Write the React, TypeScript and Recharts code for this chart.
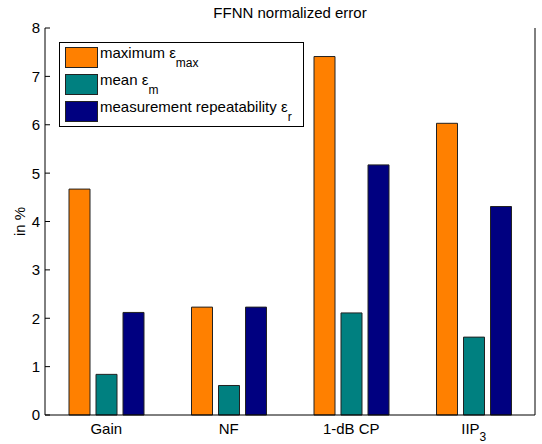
import React from 'react';
import { BarChart, Bar, XAxis, YAxis, Legend } from 'recharts';

const CATEGORIES = ['Gain', 'NF', '1-dB CP', 'IIP_3'];
const MAX_ERR = [4.67, 2.23, 7.41, 6.03];
const MEAN_ERR = [0.84, 0.61, 2.11, 1.61];
const REPEAT_ERR = [2.12, 2.23, 5.17, 4.31];
const Y_TICKS = [0, 1, 2, 3, 4, 5, 6, 7, 8];
const TITLE = 'FFNN normalized error';
const Y_LABEL = 'in %';

const SERIES = [
  { key: 'max', name: 'maximum ε', sub: 'max', color: '#FF8000' },
  { key: 'mean', name: 'mean ε', sub: 'm', color: '#008080' },
  { key: 'rep', name: 'measurement repeatability ε', sub: 'r', color: '#000080' },
];

const data = CATEGORIES.map((c, i) => ({
  name: c,
  max: MAX_ERR[i],
  mean: MEAN_ERR[i],
  rep: REPEAT_ERR[i],
}));

const FONT = '"Liberation Sans", Arial, Helvetica, sans-serif';
const FS = 15;
const TICK_LEN = 5;

const XTick = (props: any) => {
  const { x, y, payload } = props;
  const parts = String(payload.value).split('_');
  return (
    <text x={x} y={y} dy={19} textAnchor="middle" fontFamily={FONT} fontSize={FS} fill="#000">
      <tspan>{parts[0]}</tspan>
      {parts[1] ? (
        <tspan dy={7} fontSize={12}>
          {parts[1]}
        </tspan>
      ) : null}
    </text>
  );
};

const LeftYTick = (props: any) => {
  const { x, y, payload } = props;
  return (
    <g>
      <line x1={x} x2={x + TICK_LEN} y1={y} y2={y} stroke="#000" strokeWidth={1} />
      <text x={x - 5} y={y} dy="0.36em" textAnchor="end" fontFamily={FONT} fontSize={FS} fill="#000">
        {payload.value}
      </text>
    </g>
  );
};

const RightYTick = (props: any) => {
  const { x, y } = props;
  return <line x1={x} x2={x - TICK_LEN} y1={y} y2={y} stroke="#000" strokeWidth={1} />;
};

const YLabel = (props: any) => {
  const vb = props.viewBox || { x: 0, y: 0, width: 0, height: 0 };
  const cx = vb.x + 25;
  const cy = vb.y + vb.height / 2;
  return (
    <text
      x={cx}
      y={cy}
      textAnchor="middle"
      transform={`rotate(-90, ${cx}, ${cy})`}
      fontFamily={FONT}
      fontSize={FS}
      fill="#000"
    >
      {Y_LABEL}
    </text>
  );
};

const renderLegend = () => (
  <div
    style={{
      boxSizing: 'border-box',
      width: 245,
      height: 85,
      border: '1px solid #000',
      background: '#fff',
      padding: '4px 0 0 5px',
      fontFamily: FONT,
      fontSize: FS,
      color: '#000',
    }}
  >
    {SERIES.map((s) => (
      <div key={s.key} style={{ display: 'flex', alignItems: 'flex-start', height: 27 }}>
        <div
          style={{
            boxSizing: 'border-box',
            width: 33,
            height: 21,
            background: s.color,
            border: '1px solid #222',
            flex: 'none',
          }}
        />
        <div style={{ marginLeft: 2, lineHeight: '12px', whiteSpace: 'nowrap' }}>
          {s.name}
          <span style={{ fontSize: 12, position: 'relative', top: 9 }}>{s.sub}</span>
        </div>
      </div>
    ))}
  </div>
);

export default function App() {
  return (
    <div style={{ position: 'absolute', left: 0, top: 0, width: 542, height: 444, background: '#fff' }}>
      <div
        style={{
          position: 'absolute',
          left: 45,
          top: 4,
          width: 490,
          textAlign: 'center',
          fontFamily: FONT,
          fontSize: FS,
          lineHeight: '17px',
          color: '#000',
          zIndex: 2,
        }}
      >
        {TITLE}
      </div>
      <BarChart
        width={542}
        height={444}
        data={data}
        margin={{ top: 28, right: 0, left: 0, bottom: 0 }}
        barSize={21}
        barGap={6}
      >
        <XAxis
          dataKey="name"
          height={29}
          axisLine={{ stroke: '#000', strokeWidth: 1 }}
          tickLine={false}
          tickSize={0}
          tickMargin={0}
          tick={<XTick />}
          interval={0}
        />
        <XAxis
          xAxisId="top"
          dataKey="name"
          orientation="top"
          height={0}
          axisLine={{ stroke: '#000', strokeWidth: 1 }}
          tickLine={false}
          tick={false}
        />
        <YAxis
          width={45}
          domain={[0, 8]}
          ticks={Y_TICKS}
          type="number"
          axisLine={{ stroke: '#000', strokeWidth: 1 }}
          tickLine={false}
          tickSize={0}
          tickMargin={0}
          tick={<LeftYTick />}
          interval={0}
          label={<YLabel />}
        />
        <YAxis
          yAxisId="right"
          orientation="right"
          width={7}
          domain={[0, 8]}
          ticks={Y_TICKS}
          type="number"
          axisLine={{ stroke: '#000', strokeWidth: 1 }}
          tickLine={false}
          tickSize={0}
          tickMargin={0}
          tick={<RightYTick />}
          interval={0}
        />
        <Legend
          layout="vertical"
          align="center"
          verticalAlign="middle"
          wrapperStyle={{ left: 59, top: 42, width: 245, height: 85 }}
          content={renderLegend}
        />
        {SERIES.map((s) => (
          <Bar
            key={s.key}
            dataKey={s.key}
            name={s.name + s.sub}
            fill={s.color}
            stroke="#222"
            strokeWidth={1}
            isAnimationActive={false}
          />
        ))}
      </BarChart>
    </div>
  );
}
